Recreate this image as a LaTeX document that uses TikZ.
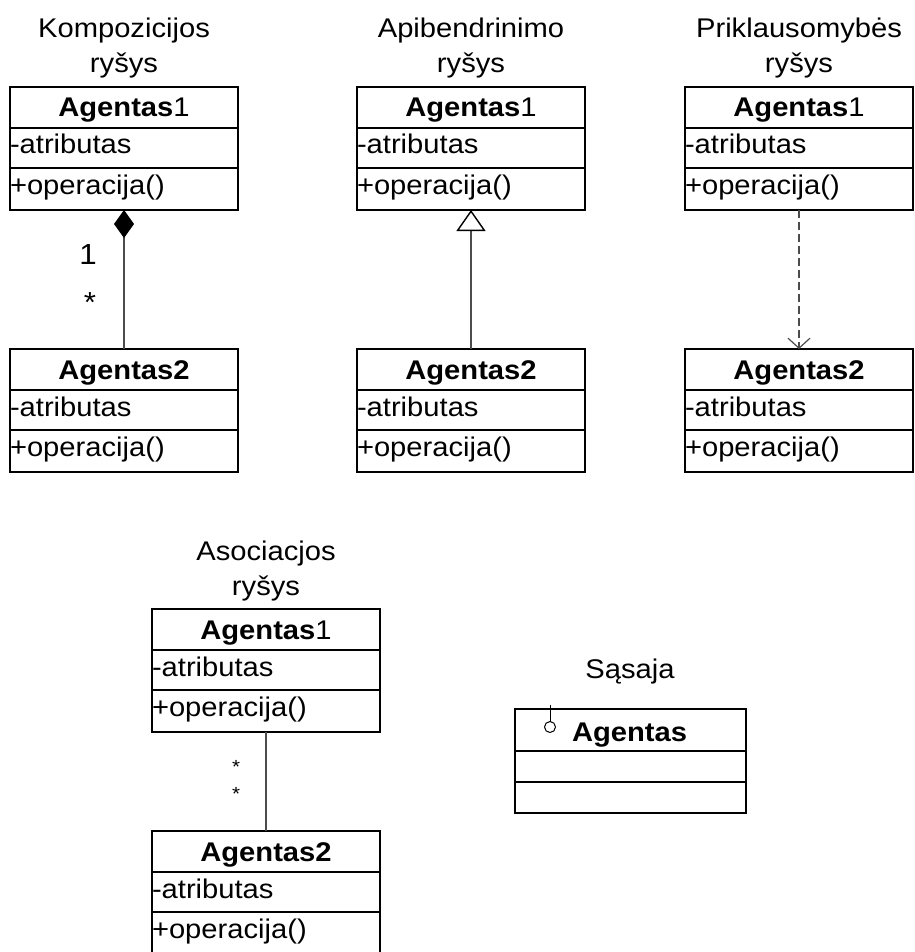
\documentclass[tikz,border=0pt]{standalone}
\usepackage{fontspec}
\setmainfont[FakeStretch=1.08]{Liberation Sans}
\usetikzlibrary{arrows.meta}

\tikzset{
  every node/.style={inner sep=0pt, outer sep=0pt, font=\fontsize{27}{32}\selectfont},
  classframe/.style={draw=black, line width=1.5pt, rectangle, minimum width=228pt, minimum height=123pt},
  ifaceframe/.style={draw=black, line width=1.5pt, rectangle, minimum width=231pt, minimum height=104pt},
  rowline/.style={draw=black, line width=1.5pt},
  member/.style={anchor=base west},
  heading/.style={anchor=base},
  link/.style={draw=black!70, line width=1.2pt},
  multbig/.style={anchor=base, font=\fontsize{29}{33}\selectfont},
  multsmall/.style={anchor=base, font=\fontsize{19}{23}\selectfont},
}

% #1 node name, #2 left x, #3 top y, #4 class name
\newcommand\drawclass[4]{%
  \node[classframe, anchor=north west] (#1) at (#2,#3) {};
  \draw[rowline] ([yshift=-41pt]#1.north west) -- ([yshift=-41pt]#1.north east);
  \draw[rowline] ([yshift=-81pt]#1.north west) -- ([yshift=-81pt]#1.north east);
  \node[heading] (#1-name) at ([yshift=-30pt]#1.north) {#4};
  \node[member] (#1-attr) at ([yshift=-67pt]#1.north west) {-atributas};
  \node[member] (#1-op) at ([yshift=-107pt]#1.north west) {+operacija()};
}

\begin{document}
\begin{tikzpicture}[x=1pt, y=-1pt]
  \useasboundingbox (0,0) rectangle (914,952);

  % titles
  \node[heading] (t1a) at (124,38) {Kompozicijos};
  \node[heading] (t1b) at (124,73) {ryšys};
  \begin{scope}
    \clip (357,0) rectangle (563,50);
    \node[heading] (t2a) at (471,38) {Apibendrinimo};
  \end{scope}
  \node[heading] (t2b) at (471,73) {ryšys};
  \node[heading] (t3a) at (799,38) {Priklausomybės};
  \node[heading] (t3b) at (799,73) {ryšys};
  \begin{scope}
    \clip (150,520) rectangle (335,570);
    \node[heading] (t4a) at (266,560) {Asociacjos};
  \end{scope}
  \node[heading] (t4b) at (266,595) {ryšys};
  \node[heading] (t5) at (630,678) {Sąsaja};

  % classes
  \drawclass{c1}{10}{87}{\textbf{Agentas}1}
  \drawclass{c2}{10}{349}{\textbf{Agentas2}}
  \drawclass{g1}{357}{87}{\textbf{Agentas}1}
  \drawclass{g2}{357}{349}{\textbf{Agentas2}}
  \drawclass{d1}{685}{87}{\textbf{Agentas}1}
  \drawclass{d2}{685}{349}{\textbf{Agentas2}}
  \drawclass{a1}{152}{609}{\textbf{Agentas}1}
  \drawclass{a2}{152}{831}{\textbf{Agentas2}}

  % composition
  \draw[link, {Diamond[length=28pt, width=20pt, color=black, fill=black]}-] (c1.south) -- (c2.north);
  \node[multbig] (c-one) at (88,264) {1};
  \node[multbig] (c-many) at (90,312) {*};

  % generalization
  \draw[link, {Triangle[length=21pt, width=29pt, color=black, fill=white, line width=1.4pt]}-] (g1.south) -- (g2.north);

  % dependency
  \draw[link, dash pattern=on 8pt off 4pt, -{Straight Barb[length=10pt, width=22pt]}] (d1.south) -- (d2.north);

  % association
  \draw[link] (a1.south) -- (a2.north);
  \node[multsmall] (a-many1) at (236,773) {*};
  \node[multsmall] (a-many2) at (236,800) {*};

  % interface
  \node[ifaceframe, anchor=north west] (iface) at (515,709) {};
  \draw[rowline] ([yshift=-42pt]iface.north west) -- ([yshift=-42pt]iface.north east);
  \draw[rowline] ([yshift=-73pt]iface.north west) -- ([yshift=-73pt]iface.north east);
  \node[anchor=base west] (iface-name) at (572,741) {\textbf{Agentas}};
  \node[circle, draw=black, line width=1pt, minimum size=11pt] (lolly) at (550,727) {};
  \coordinate (stem) at (550,705);
  \draw[line width=1pt] (lolly.north) -- (stem);
\end{tikzpicture}
\end{document}
